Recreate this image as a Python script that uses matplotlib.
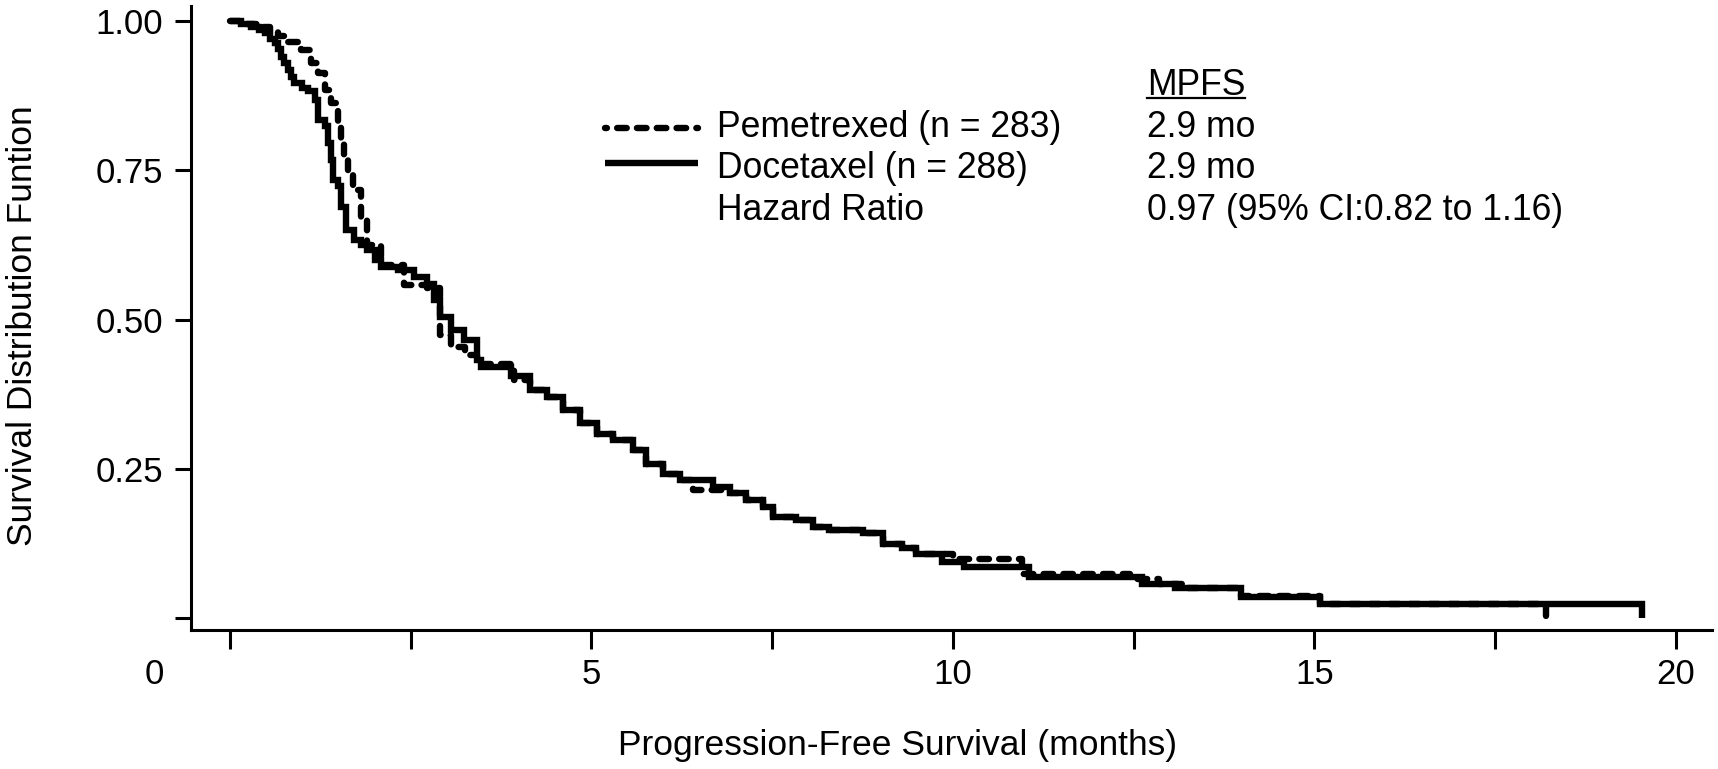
import matplotlib
matplotlib.use('Agg')
import matplotlib.pyplot as plt
from matplotlib.lines import Line2D
import matplotlib.transforms as mtransforms

plt.rcParams['font.family'] = ['Liberation Sans', 'DejaVu Sans']

# ---------------- data ----------------
doc_t = [0.00, 0.15, 0.29, 0.40, 0.48, 0.55, 0.62, 0.67, 0.71, 0.75, 0.80, 0.85, 0.89,
         1.00, 1.08, 1.17, 1.22, 1.31, 1.36, 1.40, 1.42, 1.49, 1.54, 1.60, 1.72, 1.81,
         1.90, 2.00, 2.09, 2.32, 2.55, 2.73, 2.82, 2.91, 3.05, 3.24, 3.42, 3.47, 3.88,
         4.15, 4.38, 4.61, 4.84, 5.07, 5.30, 5.58, 5.76, 5.99, 6.22, 6.68, 6.91, 7.14,
         7.37, 7.51, 7.83, 8.06, 8.29, 8.75, 9.03, 9.30, 9.49, 9.85, 10.15, 11.05,
         12.61, 13.07, 13.99, 15.08, 19.53]
doc_s = [1.000, 0.995, 0.990, 0.985, 0.979, 0.970, 0.963, 0.952, 0.940, 0.930, 0.918,
         0.905, 0.896, 0.888, 0.882, 0.868, 0.834, 0.823, 0.795, 0.767, 0.734, 0.723,
         0.689, 0.650, 0.633, 0.625, 0.616, 0.600, 0.588, 0.583, 0.571, 0.560, 0.533,
         0.505, 0.482, 0.466, 0.432, 0.420, 0.405, 0.382, 0.371, 0.348, 0.326, 0.309,
         0.298, 0.281, 0.259, 0.242, 0.231, 0.220, 0.209, 0.198, 0.186, 0.170, 0.164,
         0.153, 0.147, 0.142, 0.125, 0.117, 0.108, 0.094, 0.086, 0.069, 0.058, 0.050,
         0.036, 0.0235, 0.000]

pem_t = [0.00, 0.20, 0.40, 0.55, 0.67, 0.80, 0.98, 1.12, 1.22, 1.31, 1.40, 1.49, 1.54,
         1.58, 1.63, 1.70, 1.81, 1.90, 2.09, 2.41, 2.73, 2.91, 3.05, 3.25, 3.42, 3.93,
         4.15, 4.38, 4.61, 4.84, 5.07, 5.30, 5.58, 5.76, 5.99, 6.22, 6.41, 6.91, 7.14,
         7.37, 7.51, 7.83, 8.06, 8.29, 8.75, 9.03, 9.30, 9.49, 10.00, 10.95, 12.45,
         12.85, 13.25, 13.99, 15.08, 18.21]
pem_s = [1.000, 0.995, 0.990, 0.982, 0.975, 0.965, 0.951, 0.929, 0.912, 0.884, 0.862,
         0.829, 0.801, 0.767, 0.745, 0.717, 0.667, 0.625, 0.592, 0.558, 0.553, 0.474,
         0.454, 0.440, 0.425, 0.399, 0.382, 0.371, 0.348, 0.326, 0.309, 0.298, 0.281,
         0.259, 0.242, 0.231, 0.214, 0.209, 0.198, 0.186, 0.170, 0.164, 0.153, 0.147,
         0.142, 0.125, 0.117, 0.108, 0.100, 0.075, 0.065, 0.058, 0.050, 0.038, 0.0235,
         0.000]

x_ticks = [0, 2.5, 5, 7.5, 10, 12.5, 15, 17.5, 20]
x_ticklabels = ['', '', '5', '', '10', '', '15', '', '20']
y_ticks = [0, 0.25, 0.50, 0.75, 1.00]
y_ticklabels = ['', '0.25', '0.50', '0.75', '1.00']

series_labels = ['Pemetrexed (n = 283)', 'Docetaxel (n = 288)', 'Hazard Ratio']
mpfs_header = 'MPFS'
mpfs_values = ['2.9 mo', '2.9 mo', '0.97 (95% CI:0.82 to 1.16)']
x_label = 'Progression-Free Survival (months)'
y_label = 'Survival Distribution Funtion'

# ---------------- figure ----------------
W, H = 1718, 769
fig = plt.figure(figsize=(W / 100, H / 100), dpi=100)
fig.patch.set_facecolor('white')


def fx(px):
    return px / W


def fy(py):
    return 1 - py / H


ax = fig.add_axes([fx(191), fy(629.5), fx(1712) - fx(191), fy(6) - fy(629.5)])
ax.set_xlim(-0.54, 20.5)
ax.set_ylim(-0.0187, 1.0246)

LW = 4.6
DASH = (0, (1.5, 1.6))
ax.step(doc_t, doc_s, where='post', color='black', lw=LW, zorder=3,
        solid_joinstyle='miter', solid_capstyle='butt')
ax.step(pem_t, pem_s, where='post', color='black', lw=LW, linestyle=DASH,
        dash_capstyle='round', zorder=4)

for s in ['top', 'right']:
    ax.spines[s].set_visible(False)
for s in ['left', 'bottom']:
    ax.spines[s].set_linewidth(2.2)

TICK_FS = 25
ax.set_xticks(x_ticks)
ax.set_xticklabels(x_ticklabels)
ax.set_yticks(y_ticks)
ax.set_yticklabels(y_ticklabels)
ax.tick_params(axis='x', direction='out', length=13.7, width=2.2, pad=7, labelsize=TICK_FS)
ax.tick_params(axis='y', direction='out', length=11.5, width=2.2, pad=8.6, labelsize=TICK_FS)

# the "0" label sits left of the origin tick in the reference
trans = mtransforms.blended_transform_factory(ax.transData, ax.transAxes)
ax.text(-1.05, -(19 + 10) / 623.5, '0', transform=trans, ha='center', va='top',
        fontsize=TICK_FS, clip_on=False)

fig.text(fx(898), fy(746), x_label, ha='center', va='center', fontsize=25.5)
fig.text(fx(23), fy(326), y_label, ha='center', va='center', rotation=90, fontsize=25.5)

# ---------------- legend / annotation block ----------------
fs = 25.6
baselines = [137, 178, 220]
for lab, val, b in zip(series_labels, mpfs_values, baselines):
    fig.text(fx(717), fy(b), lab, ha='left', va='baseline', fontsize=fs)
    fig.text(fx(1147), fy(b), val, ha='left', va='baseline', fontsize=fs)

hdr = fig.text(fx(1147), fy(95), mpfs_header, ha='left', va='baseline', fontsize=fs)

fig.add_artist(Line2D([fx(605), fx(698)], [fy(128), fy(128)], transform=fig.transFigure,
                      color='black', lw=LW, linestyle=(1.2, (1.5, 1.6)), dash_capstyle='round'))
fig.add_artist(Line2D([fx(605), fx(698)], [fy(163), fy(163)], transform=fig.transFigure,
                      color='black', lw=LW, solid_capstyle='butt'))

fig.canvas.draw()
bb = hdr.get_window_extent(renderer=fig.canvas.get_renderer())
fig.add_artist(Line2D([bb.x0 / W, bb.x1 / W], [fy(98), fy(98)], transform=fig.transFigure,
                      color='black', lw=1.6))

fig.savefig('out.png', dpi=100, facecolor='white')
